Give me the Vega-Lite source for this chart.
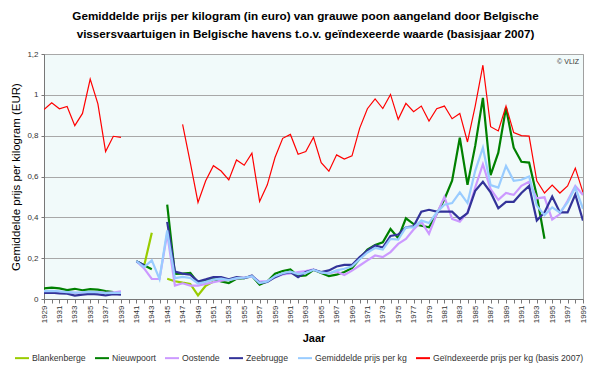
{
  "$schema": "https://vega.github.io/schema/vega-lite/v6.json",
  "width": 539,
  "height": 245,
  "autosize": {"type": "none"},
  "padding": {"left": 44, "top": 54, "right": 17, "bottom": 69},
  "background": "white",
  "config": {
    "font": "Liberation Sans",
    "view": {"fill": "#f1fafa", "stroke": "#a0a0a0", "strokeWidth": 1}
  },
  "title": {
    "text": ["Gemiddelde prijs per kilogram (in euro) van grauwe poon aangeland door Belgische", "vissersvaartuigen in Belgische havens t.o.v. geïndexeerde waarde (basisjaar 2007)"],
    "fontSize": 11.7,
    "fontWeight": "bold",
    "color": "black",
    "anchor": "middle",
    "frame": "group",
    "dx": -8,
    "offset": 9,
    "lineHeight": 18
  },
  "data": {
    "values": [
      {"jaar": 1929, "Blankenberge": null, "Nieuwpoort": 0.052, "Oostende": 0.035, "Zeebrugge": 0.030, "Gemiddelde prijs per kg": 0.039, "Geïndexeerde prijs per kg (basis 2007)": 0.928},
      {"jaar": 1930, "Blankenberge": null, "Nieuwpoort": 0.056, "Oostende": 0.036, "Zeebrugge": 0.031, "Gemiddelde prijs per kg": 0.040, "Geïndexeerde prijs per kg (basis 2007)": 0.961},
      {"jaar": 1931, "Blankenberge": null, "Nieuwpoort": 0.052, "Oostende": 0.034, "Zeebrugge": 0.028, "Gemiddelde prijs per kg": 0.037, "Geïndexeerde prijs per kg (basis 2007)": 0.932},
      {"jaar": 1932, "Blankenberge": null, "Nieuwpoort": 0.044, "Oostende": 0.032, "Zeebrugge": 0.026, "Gemiddelde prijs per kg": 0.034, "Geïndexeerde prijs per kg (basis 2007)": 0.943},
      {"jaar": 1933, "Blankenberge": null, "Nieuwpoort": 0.050, "Oostende": 0.030, "Zeebrugge": 0.017, "Gemiddelde prijs per kg": 0.031, "Geïndexeerde prijs per kg (basis 2007)": 0.849},
      {"jaar": 1934, "Blankenberge": null, "Nieuwpoort": 0.043, "Oostende": 0.031, "Zeebrugge": 0.021, "Gemiddelde prijs per kg": 0.032, "Geïndexeerde prijs per kg (basis 2007)": 0.909},
      {"jaar": 1935, "Blankenberge": null, "Nieuwpoort": 0.048, "Oostende": 0.033, "Zeebrugge": 0.025, "Gemiddelde prijs per kg": 0.035, "Geïndexeerde prijs per kg (basis 2007)": 1.077},
      {"jaar": 1936, "Blankenberge": null, "Nieuwpoort": 0.046, "Oostende": 0.032, "Zeebrugge": 0.023, "Gemiddelde prijs per kg": 0.033, "Geïndexeerde prijs per kg (basis 2007)": 0.956},
      {"jaar": 1937, "Blankenberge": null, "Nieuwpoort": 0.039, "Oostende": 0.030, "Zeebrugge": 0.018, "Gemiddelde prijs per kg": 0.029, "Geïndexeerde prijs per kg (basis 2007)": 0.722},
      {"jaar": 1938, "Blankenberge": null, "Nieuwpoort": 0.034, "Oostende": 0.032, "Zeebrugge": 0.024, "Gemiddelde prijs per kg": 0.030, "Geïndexeerde prijs per kg (basis 2007)": 0.797},
      {"jaar": 1939, "Blankenberge": null, "Nieuwpoort": null, "Oostende": 0.037, "Zeebrugge": 0.021, "Gemiddelde prijs per kg": 0.030, "Geïndexeerde prijs per kg (basis 2007)": 0.792},
      {"jaar": 1940, "Blankenberge": null, "Nieuwpoort": null, "Oostende": null, "Zeebrugge": null, "Gemiddelde prijs per kg": null, "Geïndexeerde prijs per kg (basis 2007)": null},
      {"jaar": 1941, "Blankenberge": 0.183, "Nieuwpoort": 0.185, "Oostende": 0.185, "Zeebrugge": 0.185, "Gemiddelde prijs per kg": 0.185, "Geïndexeerde prijs per kg (basis 2007)": null},
      {"jaar": 1942, "Blankenberge": 0.162, "Nieuwpoort": 0.165, "Oostende": 0.150, "Zeebrugge": 0.165, "Gemiddelde prijs per kg": 0.156, "Geïndexeerde prijs per kg (basis 2007)": null},
      {"jaar": 1943, "Blankenberge": 0.325, "Nieuwpoort": 0.146, "Oostende": 0.098, "Zeebrugge": null, "Gemiddelde prijs per kg": 0.189, "Geïndexeerde prijs per kg (basis 2007)": null},
      {"jaar": 1944, "Blankenberge": null, "Nieuwpoort": null, "Oostende": 0.098, "Zeebrugge": null, "Gemiddelde prijs per kg": 0.098, "Geïndexeerde prijs per kg (basis 2007)": null},
      {"jaar": 1945, "Blankenberge": 0.099, "Nieuwpoort": 0.462, "Oostende": 0.320, "Zeebrugge": 0.378, "Gemiddelde prijs per kg": 0.336, "Geïndexeerde prijs per kg (basis 2007)": null},
      {"jaar": 1946, "Blankenberge": 0.087, "Nieuwpoort": 0.123, "Oostende": 0.066, "Zeebrugge": 0.134, "Gemiddelde prijs per kg": 0.102, "Geïndexeerde prijs per kg (basis 2007)": null},
      {"jaar": 1947, "Blankenberge": 0.080, "Nieuwpoort": 0.124, "Oostende": 0.077, "Zeebrugge": 0.124, "Gemiddelde prijs per kg": 0.108, "Geïndexeerde prijs per kg (basis 2007)": 0.855},
      {"jaar": 1948, "Blankenberge": 0.074, "Nieuwpoort": 0.128, "Oostende": 0.066, "Zeebrugge": 0.119, "Gemiddelde prijs per kg": 0.103, "Geïndexeerde prijs per kg (basis 2007)": 0.668},
      {"jaar": 1949, "Blankenberge": 0.018, "Nieuwpoort": 0.080, "Oostende": 0.066, "Zeebrugge": 0.086, "Gemiddelde prijs per kg": 0.076, "Geïndexeerde prijs per kg (basis 2007)": 0.473},
      {"jaar": 1950, "Blankenberge": 0.065, "Nieuwpoort": 0.091, "Oostende": 0.074, "Zeebrugge": 0.096, "Gemiddelde prijs per kg": 0.084, "Geïndexeerde prijs per kg (basis 2007)": 0.579},
      {"jaar": 1951, "Blankenberge": 0.085, "Nieuwpoort": 0.098, "Oostende": 0.082, "Zeebrugge": 0.107, "Gemiddelde prijs per kg": 0.095, "Geïndexeerde prijs per kg (basis 2007)": 0.653},
      {"jaar": 1952, "Blankenberge": null, "Nieuwpoort": 0.086, "Oostende": 0.090, "Zeebrugge": 0.107, "Gemiddelde prijs per kg": 0.100, "Geïndexeerde prijs per kg (basis 2007)": 0.627},
      {"jaar": 1953, "Blankenberge": null, "Nieuwpoort": 0.078, "Oostende": 0.095, "Zeebrugge": 0.096, "Gemiddelde prijs per kg": 0.093, "Geïndexeerde prijs per kg (basis 2007)": 0.583},
      {"jaar": 1954, "Blankenberge": null, "Nieuwpoort": 0.099, "Oostende": 0.100, "Zeebrugge": 0.107, "Gemiddelde prijs per kg": 0.102, "Geïndexeerde prijs per kg (basis 2007)": 0.681},
      {"jaar": 1955, "Blankenberge": null, "Nieuwpoort": 0.102, "Oostende": 0.105, "Zeebrugge": 0.102, "Gemiddelde prijs per kg": 0.104, "Geïndexeerde prijs per kg (basis 2007)": 0.655},
      {"jaar": 1956, "Blankenberge": null, "Nieuwpoort": 0.112, "Oostende": 0.110, "Zeebrugge": 0.115, "Gemiddelde prijs per kg": 0.112, "Geïndexeerde prijs per kg (basis 2007)": 0.714},
      {"jaar": 1957, "Blankenberge": null, "Nieuwpoort": 0.070, "Oostende": 0.085, "Zeebrugge": 0.078, "Gemiddelde prijs per kg": 0.078, "Geïndexeerde prijs per kg (basis 2007)": 0.478},
      {"jaar": 1958, "Blankenberge": null, "Nieuwpoort": 0.086, "Oostende": 0.088, "Zeebrugge": 0.083, "Gemiddelde prijs per kg": 0.086, "Geïndexeerde prijs per kg (basis 2007)": 0.559},
      {"jaar": 1959, "Blankenberge": null, "Nieuwpoort": 0.124, "Oostende": 0.105, "Zeebrugge": 0.107, "Gemiddelde prijs per kg": 0.112, "Geïndexeerde prijs per kg (basis 2007)": 0.693},
      {"jaar": 1960, "Blankenberge": null, "Nieuwpoort": 0.137, "Oostende": 0.120, "Zeebrugge": 0.124, "Gemiddelde prijs per kg": 0.126, "Geïndexeerde prijs per kg (basis 2007)": 0.787},
      {"jaar": 1961, "Blankenberge": null, "Nieuwpoort": 0.145, "Oostende": 0.125, "Zeebrugge": 0.132, "Gemiddelde prijs per kg": 0.134, "Geïndexeerde prijs per kg (basis 2007)": 0.806},
      {"jaar": 1962, "Blankenberge": null, "Nieuwpoort": 0.112, "Oostende": 0.132, "Zeebrugge": 0.107, "Gemiddelde prijs per kg": 0.122, "Geïndexeerde prijs per kg (basis 2007)": 0.709},
      {"jaar": 1963, "Blankenberge": null, "Nieuwpoort": 0.115, "Oostende": 0.137, "Zeebrugge": 0.132, "Gemiddelde prijs per kg": 0.128, "Geïndexeerde prijs per kg (basis 2007)": 0.722},
      {"jaar": 1964, "Blankenberge": null, "Nieuwpoort": 0.143, "Oostende": 0.145, "Zeebrugge": 0.143, "Gemiddelde prijs per kg": 0.143, "Geïndexeerde prijs per kg (basis 2007)": 0.792},
      {"jaar": 1965, "Blankenberge": null, "Nieuwpoort": 0.128, "Oostende": 0.130, "Zeebrugge": 0.132, "Gemiddelde prijs per kg": 0.130, "Geïndexeerde prijs per kg (basis 2007)": 0.668},
      {"jaar": 1966, "Blankenberge": null, "Nieuwpoort": 0.112, "Oostende": 0.125, "Zeebrugge": 0.140, "Gemiddelde prijs per kg": 0.125, "Geïndexeerde prijs per kg (basis 2007)": 0.626},
      {"jaar": 1967, "Blankenberge": null, "Nieuwpoort": 0.119, "Oostende": 0.135, "Zeebrugge": 0.159, "Gemiddelde prijs per kg": 0.140, "Geïndexeerde prijs per kg (basis 2007)": 0.706},
      {"jaar": 1968, "Blankenberge": null, "Nieuwpoort": 0.132, "Oostende": 0.118, "Zeebrugge": 0.167, "Gemiddelde prijs per kg": 0.148, "Geïndexeerde prijs per kg (basis 2007)": 0.685},
      {"jaar": 1969, "Blankenberge": null, "Nieuwpoort": 0.151, "Oostende": 0.139, "Zeebrugge": 0.167, "Gemiddelde prijs per kg": 0.160, "Geïndexeerde prijs per kg (basis 2007)": 0.701},
      {"jaar": 1970, "Blankenberge": null, "Nieuwpoort": 0.197, "Oostende": 0.164, "Zeebrugge": 0.205, "Gemiddelde prijs per kg": 0.195, "Geïndexeerde prijs per kg (basis 2007)": 0.837},
      {"jaar": 1971, "Blankenberge": null, "Nieuwpoort": 0.242, "Oostende": 0.189, "Zeebrugge": 0.237, "Gemiddelde prijs per kg": 0.228, "Geïndexeerde prijs per kg (basis 2007)": 0.932},
      {"jaar": 1972, "Blankenberge": null, "Nieuwpoort": 0.265, "Oostende": 0.213, "Zeebrugge": 0.262, "Gemiddelde prijs per kg": 0.250, "Geïndexeerde prijs per kg (basis 2007)": 0.980},
      {"jaar": 1973, "Blankenberge": null, "Nieuwpoort": 0.278, "Oostende": 0.205, "Zeebrugge": 0.252, "Gemiddelde prijs per kg": 0.242, "Geïndexeerde prijs per kg (basis 2007)": 0.933},
      {"jaar": 1974, "Blankenberge": null, "Nieuwpoort": 0.343, "Oostende": 0.230, "Zeebrugge": 0.309, "Gemiddelde prijs per kg": 0.294, "Geïndexeerde prijs per kg (basis 2007)": 1.002},
      {"jaar": 1975, "Blankenberge": null, "Nieuwpoort": 0.298, "Oostende": 0.270, "Zeebrugge": 0.316, "Gemiddelde prijs per kg": 0.291, "Geïndexeerde prijs per kg (basis 2007)": 0.880},
      {"jaar": 1976, "Blankenberge": null, "Nieuwpoort": 0.395, "Oostende": 0.294, "Zeebrugge": 0.351, "Gemiddelde prijs per kg": 0.351, "Geïndexeerde prijs per kg (basis 2007)": 0.958},
      {"jaar": 1977, "Blankenberge": null, "Nieuwpoort": 0.367, "Oostende": 0.340, "Zeebrugge": 0.356, "Gemiddelde prijs per kg": 0.351, "Geïndexeerde prijs per kg (basis 2007)": 0.917},
      {"jaar": 1978, "Blankenberge": null, "Nieuwpoort": 0.359, "Oostende": 0.379, "Zeebrugge": 0.428, "Gemiddelde prijs per kg": 0.384, "Geïndexeerde prijs per kg (basis 2007)": 0.945},
      {"jaar": 1979, "Blankenberge": null, "Nieuwpoort": 0.351, "Oostende": 0.319, "Zeebrugge": 0.437, "Gemiddelde prijs per kg": 0.372, "Geïndexeerde prijs per kg (basis 2007)": 0.872},
      {"jaar": 1980, "Blankenberge": null, "Nieuwpoort": 0.416, "Oostende": 0.416, "Zeebrugge": 0.428, "Gemiddelde prijs per kg": 0.424, "Geïndexeerde prijs per kg (basis 2007)": 0.932},
      {"jaar": 1981, "Blankenberge": null, "Nieuwpoort": 0.489, "Oostende": 0.500, "Zeebrugge": 0.428, "Gemiddelde prijs per kg": 0.462, "Geïndexeerde prijs per kg (basis 2007)": 0.945},
      {"jaar": 1982, "Blankenberge": null, "Nieuwpoort": 0.579, "Oostende": 0.392, "Zeebrugge": 0.428, "Gemiddelde prijs per kg": 0.470, "Geïndexeerde prijs per kg (basis 2007)": 0.883},
      {"jaar": 1983, "Blankenberge": null, "Nieuwpoort": 0.790, "Oostende": 0.379, "Zeebrugge": 0.392, "Gemiddelde prijs per kg": 0.522, "Geïndexeerde prijs per kg (basis 2007)": 0.909},
      {"jaar": 1984, "Blankenberge": null, "Nieuwpoort": 0.559, "Oostende": 0.424, "Zeebrugge": 0.421, "Gemiddelde prijs per kg": 0.470, "Geïndexeerde prijs per kg (basis 2007)": 0.769},
      {"jaar": 1985, "Blankenberge": null, "Nieuwpoort": 0.750, "Oostende": 0.546, "Zeebrugge": 0.530, "Gemiddelde prijs per kg": 0.628, "Geïndexeerde prijs per kg (basis 2007)": 0.945},
      {"jaar": 1986, "Blankenberge": null, "Nieuwpoort": 0.985, "Oostende": 0.660, "Zeebrugge": 0.574, "Gemiddelde prijs per kg": 0.741, "Geïndexeerde prijs per kg (basis 2007)": 1.145},
      {"jaar": 1987, "Blankenberge": null, "Nieuwpoort": 0.607, "Oostende": 0.538, "Zeebrugge": 0.522, "Gemiddelde prijs per kg": 0.558, "Geïndexeerde prijs per kg (basis 2007)": 0.844},
      {"jaar": 1988, "Blankenberge": null, "Nieuwpoort": 0.717, "Oostende": 0.486, "Zeebrugge": 0.444, "Gemiddelde prijs per kg": 0.546, "Geïndexeerde prijs per kg (basis 2007)": 0.823},
      {"jaar": 1989, "Blankenberge": null, "Nieuwpoort": 0.937, "Oostende": 0.519, "Zeebrugge": 0.476, "Gemiddelde prijs per kg": 0.652, "Geïndexeerde prijs per kg (basis 2007)": 0.945},
      {"jaar": 1990, "Blankenberge": null, "Nieuwpoort": 0.741, "Oostende": 0.510, "Zeebrugge": 0.476, "Gemiddelde prijs per kg": 0.579, "Geïndexeerde prijs per kg (basis 2007)": 0.815},
      {"jaar": 1991, "Blankenberge": null, "Nieuwpoort": 0.672, "Oostende": 0.554, "Zeebrugge": 0.519, "Gemiddelde prijs per kg": 0.584, "Geïndexeerde prijs per kg (basis 2007)": 0.800},
      {"jaar": 1992, "Blankenberge": null, "Nieuwpoort": 0.668, "Oostende": 0.574, "Zeebrugge": 0.554, "Gemiddelde prijs per kg": 0.600, "Geïndexeerde prijs per kg (basis 2007)": 0.798},
      {"jaar": 1993, "Blankenberge": null, "Nieuwpoort": 0.506, "Oostende": 0.493, "Zeebrugge": 0.384, "Gemiddelde prijs per kg": 0.457, "Geïndexeerde prijs per kg (basis 2007)": 0.579},
      {"jaar": 1994, "Blankenberge": null, "Nieuwpoort": 0.295, "Oostende": 0.498, "Zeebrugge": 0.424, "Gemiddelde prijs per kg": 0.411, "Geïndexeerde prijs per kg (basis 2007)": 0.519},
      {"jaar": 1995, "Blankenberge": null, "Nieuwpoort": null, "Oostende": 0.389, "Zeebrugge": 0.502, "Gemiddelde prijs per kg": 0.449, "Geïndexeerde prijs per kg (basis 2007)": 0.558},
      {"jaar": 1996, "Blankenberge": null, "Nieuwpoort": null, "Oostende": 0.416, "Zeebrugge": 0.424, "Gemiddelde prijs per kg": 0.424, "Geïndexeerde prijs per kg (basis 2007)": 0.519},
      {"jaar": 1997, "Blankenberge": null, "Nieuwpoort": null, "Oostende": 0.481, "Zeebrugge": 0.424, "Gemiddelde prijs per kg": 0.473, "Geïndexeerde prijs per kg (basis 2007)": 0.554},
      {"jaar": 1998, "Blankenberge": null, "Nieuwpoort": null, "Oostende": 0.554, "Zeebrugge": 0.512, "Gemiddelde prijs per kg": 0.546, "Geïndexeerde prijs per kg (basis 2007)": 0.641},
      {"jaar": 1999, "Blankenberge": null, "Nieuwpoort": null, "Oostende": 0.509, "Zeebrugge": 0.384, "Gemiddelde prijs per kg": 0.442, "Geïndexeerde prijs per kg (basis 2007)": 0.522}
    ]
  },
  "layer": [
    {
      "transform": [
        {"fold": ["Blankenberge", "Nieuwpoort", "Oostende", "Zeebrugge", "Gemiddelde prijs per kg", "Geïndexeerde prijs per kg (basis 2007)"], "as": ["reeks", "prijs"]}
      ],
      "mark": {"type": "line", "strokeJoin": "miter", "clip": true},
      "encoding": {
        "x": {
          "field": "jaar",
          "type": "quantitative",
          "scale": {"domain": [1929, 1999], "nice": false, "zero": false},
          "axis": {
            "title": "Jaar",
            "titleFontSize": 11,
            "titleFontWeight": "bold",
            "titleColor": "black",
            "titlePadding": 10,
            "values": [1929,1930,1931,1932,1933,1934,1935,1936,1937,1938,1939,1940,1941,1942,1943,1944,1945,1946,1947,1948,1949,1950,1951,1952,1953,1954,1955,1956,1957,1958,1959,1960,1961,1962,1963,1964,1965,1966,1967,1968,1969,1970,1971,1972,1973,1974,1975,1976,1977,1978,1979,1980,1981,1982,1983,1984,1985,1986,1987,1988,1989,1990,1991,1992,1993,1994,1995,1996,1997,1998,1999],
            "tickCount": 200,
            "format": "d",
            "labelExpr": "(datum.value - 1929) % 2 == 0 ? datum.label : ''",
            "labelAngle": -90,
            "labelFontSize": 8,
            "labelColor": "#333333",
            "labelPadding": 2,
            "labelOverlap": false,
            "labelBound": false,
            "labelFlush": false,
            "tickSize": 4,
            "tickColor": "#777777",
            "domainColor": "#777777",
            "grid": false
          }
        },
        "y": {
          "field": "prijs",
          "type": "quantitative",
          "scale": {"domain": [0, 1.2], "nice": false},
          "axis": {
            "title": "Gemiddelde prijs per kilogram (EUR)",
            "titleFontSize": 11.5,
            "titleFontWeight": "normal",
            "titleColor": "black",
            "titlePadding": 5,
            "values": [0, 0.2, 0.4, 0.6, 0.8, 1, 1.2],
            "labelExpr": "replace(format(datum.value, '.1~f'), '.', ',')",
            "labelFontSize": 8,
            "labelColor": "#333333",
            "labelPadding": 3,
            "tickSize": 3,
            "tickColor": "#777777",
            "domainColor": "#777777",
            "grid": true,
            "gridColor": "#a8a8a8",
            "gridWidth": 1
          }
        },
        "color": {
          "field": "reeks",
          "type": "nominal",
          "scale": {
            "domain": ["Blankenberge", "Nieuwpoort", "Oostende", "Zeebrugge", "Gemiddelde prijs per kg", "Geïndexeerde prijs per kg (basis 2007)"],
            "range": ["#99cc00", "#008000", "#cc99ff", "#333399", "#99ccff", "#ff0000"]
          },
          "legend": {
            "title": null,
            "orient": "none",
            "legendX": -30,
            "legendY": 296,
            "direction": "horizontal",
            "symbolType": "stroke",
            "symbolSize": 196,
            "symbolStrokeWidth": 2,
            "labelFontSize": 8.7,
            "labelColor": "#333333",
            "labelOffset": 2,
            "columnPadding": 5,
            "labelLimit": 300
          }
        },
        "strokeWidth": {
          "condition": {"test": "datum.reeks == 'Geïndexeerde prijs per kg (basis 2007)'", "value": 1.2},
          "value": 2.2
        }
      }
    },
    {
      "data": {"values": [{"bron": "© VLIZ", "jaar": 1999, "prijs": 1.2}]},
      "mark": {"type": "text", "align": "right", "baseline": "top", "dx": -4, "dy": 4, "fontSize": 7, "color": "#333333"},
      "encoding": {
        "x": {"field": "jaar", "type": "quantitative"},
        "y": {"field": "prijs", "type": "quantitative"},
        "text": {"field": "bron"}
      }
    }
  ]
}
